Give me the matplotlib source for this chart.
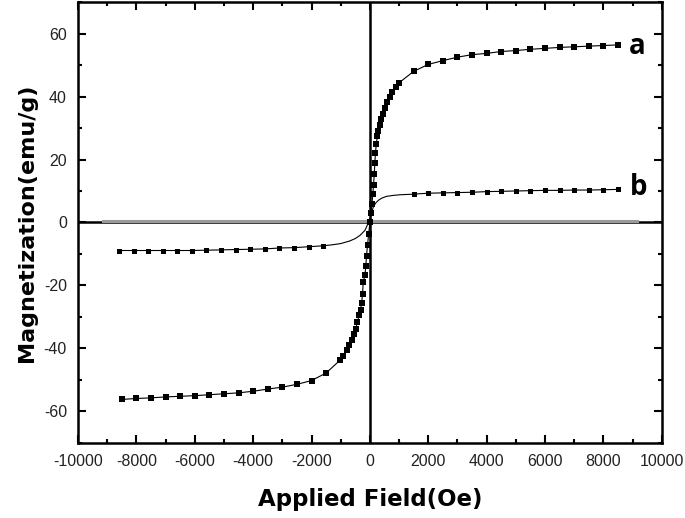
import matplotlib.pyplot as plt
import numpy as np

plt.rcParams['font.family'] = ['Liberation Sans', 'DejaVu Sans']
plt.rcParams['axes.unicode_minus'] = False

# Probe a (Oe, emu/g)
a_field = [-8500, -8000, -7500, -7000, -6500, -6000, -5500, -5000, -4500, -4000,
           -3500, -3000, -2500, -2000, -1500, -1030, -910, -800, -710, -630,
           -550, -480, -435, -365, -320, -285, -250, -230, -170, -140, -115,
           -80, -40, 0, 40, 70, 100, 125, 150, 170, 190, 220, 260, 285, 340,
           375, 435, 515, 595, 685, 765, 880, 990, 1500, 2000, 2500, 3000,
           3500, 4000, 4500, 5000, 5500, 6000, 6500, 7000, 7500, 8000, 8500]
a_mag = [-56.2, -55.9, -55.7, -55.4, -55.2, -55.0, -54.7, -54.4, -54.1, -53.6,
         -52.9, -52.3, -51.4, -50.2, -47.8, -43.8, -42.5, -40.6, -39.0, -37.2,
         -35.3, -33.8, -31.6, -29.5, -27.7, -25.6, -22.6, -19.0, -16.8, -13.7, -10.5,
         -7.0, -3.5, 0.0, 3.0, 6.0, 9.0, 12.0, 15.5, 19.0, 22.0, 25.0, 27.5, 29.2, 31.0,
         33.0, 34.6, 36.2, 38.2, 39.8, 41.4, 43.0, 44.3, 48.0, 50.2, 51.4, 52.5,
         53.3, 53.7, 54.3, 54.6, 55.0, 55.3, 55.6, 55.8, 56.0, 56.2, 56.4]

# Probe b (Oe, emu/g)
b_field = [-8600, -8100, -7600, -7100, -6600, -6100, -5600, -5100, -4600, -4100,
           -3600, -3100, -2600, -2100, -1600, -1300, -1000, -700, -500, -340,
           -170, 0, 60, 115, 200, 285, 400, 570, 800, 1030, 1500, 2000, 2500,
           3000, 3500, 4000, 4500, 5000, 5500, 6000, 6500, 7000, 7500, 8000, 8500]
b_mag = [-8.9, -8.9, -8.9, -8.9, -8.9, -8.9, -8.8, -8.7, -8.6, -8.5,
         -8.4, -8.1, -8.0, -7.7, -7.4, -7.1, -6.7, -5.9, -5.1, -4.1,
         -2.5, 1.0, 3.0, 4.9, 6.2, 7.0, 7.7, 8.3, 8.6, 8.8, 9.0, 9.3, 9.4,
         9.5, 9.6, 9.8, 9.9, 10.0, 10.1, 10.2, 10.2, 10.3, 10.3, 10.4, 10.5]

# grauer Nullpegel
c_field = [-9140, 9140]
c_mag = [0.6, 0.6]

fig = plt.figure(figsize=(6.85, 5.18), dpi=100)
ax = fig.add_axes([0.114, 0.145, 0.852, 0.851])

ax.axhline(0, color='black', lw=1.8, zorder=1)
ax.axvline(0, color='black', lw=1.8, zorder=1)
ax.plot(c_field, c_mag, color='#9a9a9a', lw=2.2, zorder=2)

ax.plot(a_field, a_mag, color='black', lw=0.8, marker='s', markersize=4,
        markeredgewidth=0, zorder=3)

b_marks = [abs(x) >= 1400 for x in b_field]
ax.plot(b_field, b_mag, color='black', lw=0.8, marker='s', markersize=3.6,
        markeredgewidth=0, markevery=b_marks, zorder=3)

ax.text(9150, 55.8, 'a', fontsize=20, fontweight='bold', ha='center', va='center',
        family='Open Sans')
ax.text(9200, 11.0, 'b', fontsize=20, fontweight='bold', ha='center', va='center',
        family='Open Sans')

ax.set_xlim(-10000, 10000)
ax.set_ylim(-70, 70)
ax.set_xticks(np.arange(-10000, 10001, 2000))
ax.set_xticks(np.arange(-9000, 10000, 2000), minor=True)
ax.set_yticks(np.arange(-60, 61, 20))
ax.set_yticks(np.arange(-70, 71, 20), minor=True)

for s in ax.spines.values():
    s.set_linewidth(1.8)
ax.tick_params(which='both', direction='in', top=True, right=True, width=1.5,
               labelsize=11.5, labelcolor='#222222')
ax.tick_params(which='major', length=6, pad=8)
ax.tick_params(which='minor', length=3)

ax.set_xlabel('Applied Field(Oe)', fontsize=16.5, fontweight='bold', labelpad=14,
              family='DejaVu Sans')
ax.set_ylabel('Magnetization(emu/g)', fontsize=16, fontweight='bold', labelpad=5,
              family='DejaVu Sans')

plt.savefig('out.png')
